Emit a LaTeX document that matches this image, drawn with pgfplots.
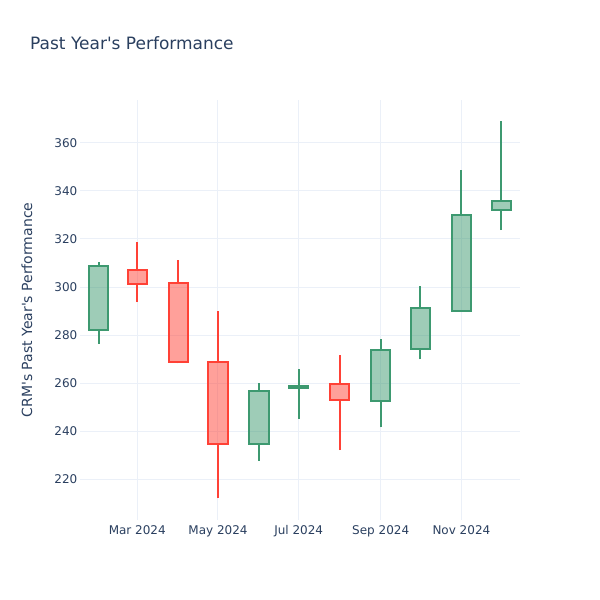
\documentclass[border=0pt]{standalone}
\usepackage{fontspec}
\setmainfont{DejaVu Sans}[Ligatures=TeXOff]
\usepackage{pgfplots}
\pgfplotsset{compat=1.18}
\definecolor{txt}{HTML}{2A3F5F}
\definecolor{gridc}{HTML}{EBF0F8}
\definecolor{inc}{HTML}{3D9970}
\definecolor{dec}{HTML}{FF4136}
\pgfplotsset{
  incw/.style={draw=inc, line width=2bp, solid, mark=none},
  decw/.style={draw=dec, line width=2bp, solid, mark=none},
  incb/.style={draw=inc, fill=inc, fill opacity=0.5, draw opacity=1, line width=2bp, solid, mark=none},
  decb/.style={draw=dec, fill=dec, fill opacity=0.5, draw opacity=1, line width=2bp, solid, mark=none},
}
\begin{document}
\begin{tikzpicture}
\path[use as bounding box] (0,0) rectangle (600bp,600bp);
\node[anchor=base west, text=txt, inner sep=0pt, font=\fontsize{17bp}{20bp}\selectfont] at (30bp,550bp) {Past Year's Performance};
\node[anchor=base, rotate=90, text=txt, inner sep=0pt, font=\fontsize{14bp}{17bp}\selectfont] at (32bp,290bp) {CRM's Past Year's Performance};
\begin{axis}[
  at={(80bp,80bp)}, anchor=south west,
  width=440bp, height=420bp, scale only axis,
  xmin=16.7, xmax=349.3, ymin=203.1, ymax=377.8,
  axis line style={draw=none},
  tick style={draw=none},
  major tick length=0pt,
  grid=major,
  grid style={color=gridc, line width=1bp},
  unbounded coords=jump,
  xtick={60,121,182,244,305},
  xticklabels={Mar 2024,May 2024,Jul 2024,Sep 2024,Nov 2024},
  ytick={220,240,260,280,300,320,340,360},
  /pgf/number format/assume math mode=true,
  ticklabel style={font=\fontsize{12bp}{14bp}\selectfont, text=txt, inner sep=0pt},
  xticklabel style={anchor=north, yshift=-5bp},
  yticklabel style={anchor=east, xshift=-2.5bp},
]
% Feb 2024 (day 31): O 282.0 H 310.4 L 276.4 C 308.8
\addplot[incw] coordinates {(31,276.4) (31,282.0) (31,nan) (31,308.8) (31,310.4)};
\addplot[incb] coordinates {(23.8,282.0) (38.2,282.0) (38.2,308.8) (23.8,308.8)} --cycle;
% Mar 2024 (day 60): O 307.0 H 318.7 L 293.7 C 301.3
\addplot[decw] coordinates {(60,293.7) (60,301.3) (60,nan) (60,307.0) (60,318.7)};
\addplot[decb] coordinates {(52.8,301.3) (67.2,301.3) (67.2,307.0) (52.8,307.0)} --cycle;
% Apr 2024 (day 91): O 301.8 H 311.2 L 268.2 C 268.9
\addplot[decw] coordinates {(91,268.2) (91,268.9) (91,nan) (91,301.8) (91,311.2)};
\addplot[decb] coordinates {(83.8,268.9) (98.2,268.9) (98.2,301.8) (83.8,301.8)} --cycle;
% May 2024 (day 121): O 268.9 H 290.0 L 212.2 C 234.7
\addplot[decw] coordinates {(121,212.2) (121,234.7) (121,nan) (121,268.9) (121,290.0)};
\addplot[decb] coordinates {(113.8,234.7) (128.2,234.7) (128.2,268.9) (113.8,268.9)} --cycle;
% Jun 2024 (day 152): O 234.7 H 259.9 L 227.7 C 256.8
\addplot[incw] coordinates {(152,227.7) (152,234.7) (152,nan) (152,256.8) (152,259.9)};
\addplot[incb] coordinates {(144.8,234.7) (159.2,234.7) (159.2,256.8) (144.8,256.8)} --cycle;
% Jul 2024 (day 182): O 258.0 H 265.9 L 245.3 C 258.8
\addplot[incw] coordinates {(182,245.3) (182,258.0) (182,nan) (182,258.8) (182,265.9)};
\addplot[incb] coordinates {(174.8,258.0) (189.2,258.0) (189.2,258.8) (174.8,258.8)} --cycle;
% Aug 2024 (day 213): O 259.6 H 271.7 L 232.2 C 253.0
\addplot[decw] coordinates {(213,232.2) (213,253.0) (213,nan) (213,259.6) (213,271.7)};
\addplot[decb] coordinates {(205.8,253.0) (220.2,253.0) (220.2,259.6) (205.8,259.6)} --cycle;
% Sep 2024 (day 244): O 252.4 H 278.5 L 241.6 C 273.8
\addplot[incw] coordinates {(244,241.6) (244,252.4) (244,nan) (244,273.8) (244,278.5)};
\addplot[incb] coordinates {(236.8,252.4) (251.2,252.4) (251.2,273.8) (236.8,273.8)} --cycle;
% Oct 2024 (day 274): O 274.1 H 300.4 L 269.9 C 291.2
\addplot[incw] coordinates {(274,269.9) (274,274.1) (274,nan) (274,291.2) (274,300.4)};
\addplot[incb] coordinates {(266.8,274.1) (281.2,274.1) (281.2,291.2) (266.8,291.2)} --cycle;
% Nov 2024 (day 305): O 290.1 H 348.8 L 290.0 C 329.9
\addplot[incw] coordinates {(305,290.0) (305,290.1) (305,nan) (305,329.9) (305,348.8)};
\addplot[incb] coordinates {(297.8,290.1) (312.2,290.1) (312.2,329.9) (297.8,329.9)} --cycle;
% Dec 2024 (day 335): O 332.0 H 369.0 L 323.7 C 335.9
\addplot[incw] coordinates {(335,323.7) (335,332.0) (335,nan) (335,335.9) (335,369.0)};
\addplot[incb] coordinates {(327.8,332.0) (342.2,332.0) (342.2,335.9) (327.8,335.9)} --cycle;
\end{axis}
\end{tikzpicture}
\end{document}
